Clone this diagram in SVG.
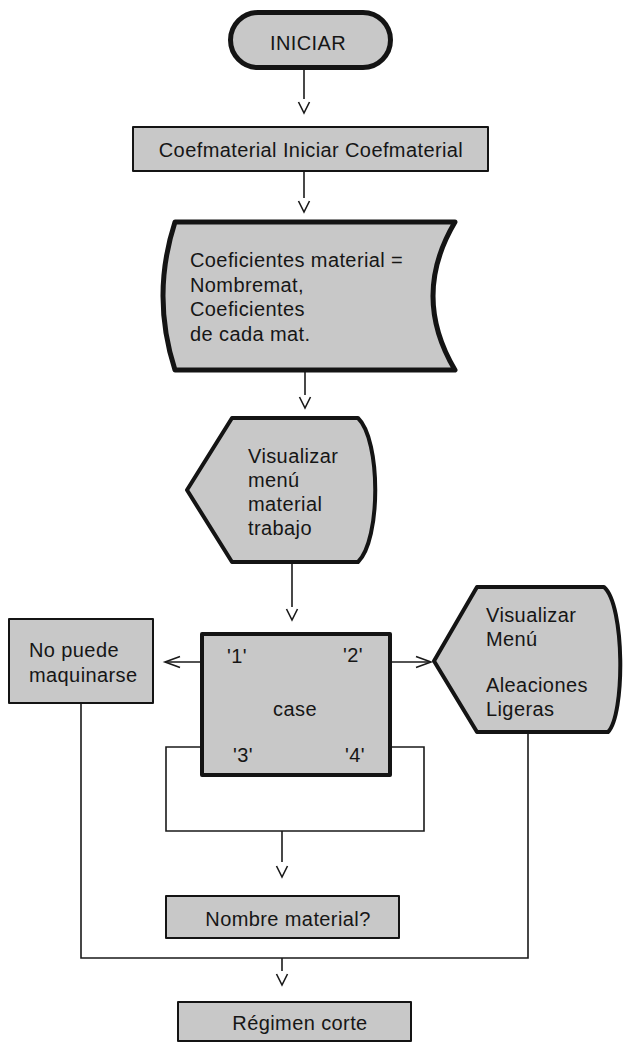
<svg xmlns="http://www.w3.org/2000/svg" width="624" height="1043" viewBox="0 0 624 1043">
  <style>
    .bg { fill: #ffffff; }
    .shape { fill: #c8c8c8; stroke: #141414; stroke-linejoin: round; }
    .heavy { stroke-width: 5; }
    .mid { stroke-width: 4; }
    .thin { stroke-width: 2; }
    .wire { fill: none; stroke: #1a1a1a; stroke-width: 1.6; }
    .head { fill: none; stroke: #1a1a1a; stroke-width: 1.6; stroke-linejoin: miter; }
    text { font-family: "Liberation Sans", Arial, Helvetica, sans-serif; font-size: 20px; fill: #161616; letter-spacing: 0.4px; }
    .c { text-anchor: middle; }
  </style>
  <defs>
    <!-- open V arrowhead, tip at the origin, pointing down -->
    <path id="vdown" d="M-5.5,-11 L0,0 L5.5,-11"/>
  </defs>

  <rect class="bg" x="0" y="0" width="624" height="1043"/>

  <!-- connectors -->
  <g id="connectors">
    <!-- INICIAR -> Coefmaterial -->
    <line class="wire" x1="304" y1="70" x2="304" y2="99"/>
    <use href="#vdown" class="head" x="304" y="113"/>
    <!-- Coefmaterial -> Coeficientes -->
    <line class="wire" x1="304" y1="172" x2="304" y2="198"/>
    <use href="#vdown" class="head" x="304" y="212"/>
    <!-- Coeficientes -> Visualizar menu -->
    <line class="wire" x1="305" y1="370" x2="305" y2="395"/>
    <use href="#vdown" class="head" x="305" y="408"/>
    <!-- Visualizar menu -> case -->
    <line class="wire" x1="292" y1="562" x2="292" y2="607"/>
    <use href="#vdown" class="head" x="292" y="620"/>
    <!-- case '1' -> No puede maquinarse -->
    <line class="wire" x1="200" y1="662" x2="166" y2="662"/>
    <path class="head" d="M180,656.5 L165,662 L180,667.5"/>
    <!-- case '2' -> Visualizar Menu Aleaciones -->
    <line class="wire" x1="392" y1="662" x2="429" y2="662"/>
    <path class="head" d="M416,656.5 L431,662 L416,667.5"/>
    <!-- case '3' / '4' bracket -->
    <path class="wire" d="M200,747 H166 V831 H424 V747 H392"/>
    <line class="wire" x1="282" y1="831" x2="282" y2="862"/>
    <use href="#vdown" class="head" x="282" y="877"/>
    <!-- outer merge: No puede + Aleaciones -->
    <path class="wire" d="M81,703 V958 H528 V733"/>
    <line class="wire" x1="282" y1="958" x2="282" y2="971"/>
    <use href="#vdown" class="head" x="282" y="985"/>
  </g>

  <!-- start terminal -->
  <g id="iniciar">
    <rect class="shape heavy" x="230.5" y="12.5" width="160" height="55" rx="27.5"/>
    <text class="c" x="308" y="50">INICIAR</text>
  </g>

  <g id="coefmaterial-iniciar">
    <rect class="shape thin" x="133" y="127" width="355" height="44"/>
    <text class="c" x="311" y="157">Coefmaterial Iniciar Coefmaterial</text>
  </g>

  <!-- stored data -->
  <g id="coeficientes">
    <path class="shape heavy" d="M175,222 H455 Q411,296 455,370 H175 Q151,296 175,222 Z"/>
    <text x="190" y="267">Coeficientes material =</text>
    <text x="190" y="291.5">Nombremat,</text>
    <text x="190" y="316">Coeficientes</text>
    <text x="190" y="340.5">de cada mat.</text>
  </g>

  <!-- display -->
  <g id="visualizar-menu">
    <path class="shape mid" d="M232,418 H358 C381,440 381,540 358,562 H232 L187,490 Z"/>
    <text x="248" y="463">Visualizar</text>
    <text x="248" y="487">menú</text>
    <text x="248" y="511">material</text>
    <text x="248" y="535">trabajo</text>
  </g>

  <g id="case">
    <rect class="shape mid" x="202" y="634" width="188" height="141"/>
    <text x="227" y="663">'1'</text>
    <text x="343" y="662">'2'</text>
    <text class="c" x="295" y="716">case</text>
    <text x="233" y="762">'3'</text>
    <text x="345" y="762">'4'</text>
  </g>

  <g id="no-puede">
    <rect class="shape thin" x="9" y="619" width="144" height="84"/>
    <text x="29" y="657">No puede</text>
    <text x="29" y="682">maquinarse</text>
  </g>

  <!-- display -->
  <g id="visualizar-aleaciones">
    <path class="shape mid" d="M477,587 H604 C625,605 625,715 608,732 H477 L434,661 Z"/>
    <text x="486" y="622">Visualizar</text>
    <text x="486" y="646">Menú</text>
    <text x="486" y="692">Aleaciones</text>
    <text x="486" y="716">Ligeras</text>
  </g>

  <g id="nombre-material">
    <rect class="shape thin" x="166" y="896" width="233" height="42"/>
    <text class="c" x="288" y="926">Nombre material?</text>
  </g>

  <g id="regimen-corte">
    <rect class="shape thin" x="178" y="1002" width="233" height="39"/>
    <text class="c" x="300" y="1030">Régimen corte</text>
  </g>
</svg>
